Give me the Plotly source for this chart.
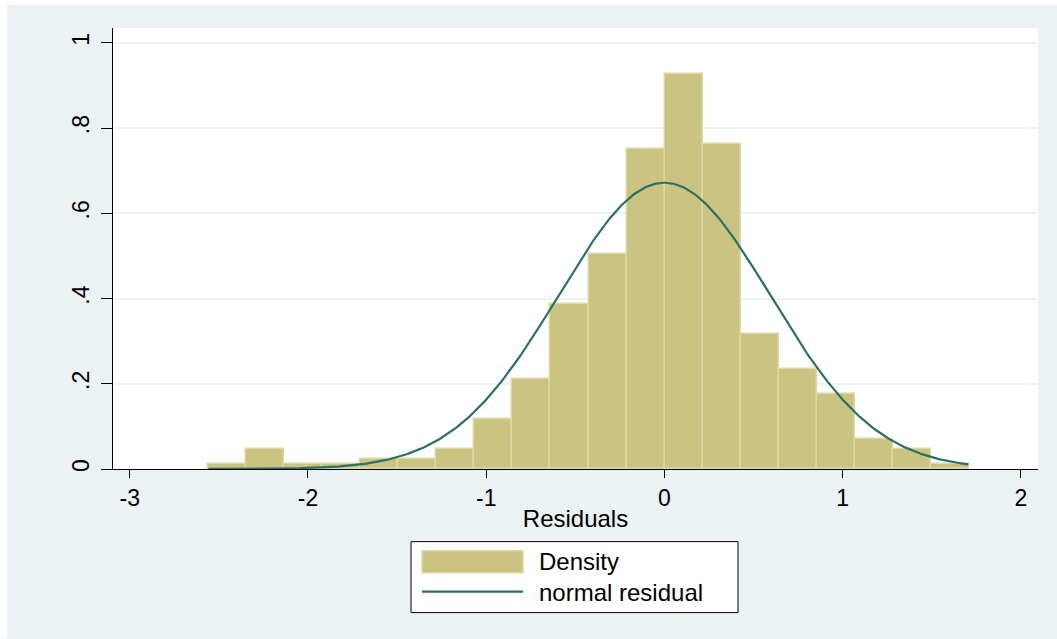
import numpy as np
import plotly.graph_objects as go

# Histogram of residuals (density scale) with a fitted normal curve
bin_start = -2.559
bin_width = 0.2133
density = [0.012, 0.047, 0.012, 0.012, 0.023, 0.023, 0.047, 0.117, 0.211, 0.387,
           0.504, 0.750, 0.926, 0.762, 0.317, 0.234, 0.176, 0.070, 0.047, 0.012]

# Normal fit parameters
resid_mean = 0.0
resid_sd = 0.594
resid_min = -2.559
resid_max = 1.706

x_ticks = [-3, -2, -1, 0, 1, 2]
x_tick_text = ["-3", "-2", "-1", "0", "1", "2"]
y_ticks = [0, 0.2, 0.4, 0.6, 0.8, 1.0]
y_tick_text = ["0", ".2", ".4", ".6", ".8", "1"]

BAR_FILL = "#CBC382"
BAR_EDGE = "#DDD8A6"
LINE_COLOR = "#2B6F66"
PANEL = "#EAF2F3"
FONT = "Liberation Sans, Arial, sans-serif"

W, H = 1057, 639
L, R, T, B = 113, 1038, 28, 469.3

centers = [bin_start + (i + 0.5) * bin_width for i in range(len(density))]

xs = np.linspace(resid_min, resid_max, 400)
ys = np.exp(-0.5 * ((xs - resid_mean) / resid_sd) ** 2) / (resid_sd * np.sqrt(2 * np.pi))

fig = go.Figure()
fig.add_trace(go.Bar(
    x=centers, y=density, width=bin_width,
    marker=dict(color=BAR_FILL, line=dict(color=BAR_EDGE, width=1.5)),
    name="Density", showlegend=False,
))
fig.add_trace(go.Scatter(
    x=xs, y=ys, mode="lines",
    line=dict(color=LINE_COLOR, width=2.2),
    name="normal residual", showlegend=False,
))


def px_x(px):
    return (px - L) / (R - L)


def px_y(py):
    return (B - py) / (B - T)


shapes = [
    # white outer border strips
    dict(type="rect", xref="paper", yref="paper", x0=px_x(0), x1=px_x(W), y0=px_y(0), y1=px_y(5),
         fillcolor="white", line=dict(width=0), layer="below"),
    dict(type="rect", xref="paper", yref="paper", x0=px_x(0), x1=px_x(7), y0=px_y(H), y1=px_y(0),
         fillcolor="white", line=dict(width=0), layer="below"),
    # legend frame
    dict(type="rect", xref="paper", yref="paper", x0=px_x(411), x1=px_x(738), y0=px_y(613), y1=px_y(542),
         fillcolor="white", line=dict(color="black", width=1)),
    # legend swatch for bars
    dict(type="rect", xref="paper", yref="paper", x0=px_x(422), x1=px_x(523), y0=px_y(573), y1=px_y(551),
         fillcolor=BAR_FILL, line=dict(color=BAR_EDGE, width=1.5)),
    # legend swatch for line
    dict(type="line", xref="paper", yref="paper", x0=px_x(422), x1=px_x(523), y0=px_y(592), y1=px_y(592),
         line=dict(color=LINE_COLOR, width=2.2)),
]

annotations = [
    dict(text="Density", xref="paper", yref="paper", x=px_x(537), y=px_y(562),
         xanchor="left", yanchor="middle", showarrow=False,
         font=dict(family=FONT, size=24, color="black")),
    dict(text="normal residual", xref="paper", yref="paper", x=px_x(537), y=px_y(593),
         xanchor="left", yanchor="middle", showarrow=False,
         font=dict(family=FONT, size=24, color="black")),
]

fig.update_layout(
    width=W, height=H,
    margin=dict(l=L, r=W - R, t=T, b=H - B, pad=0),
    paper_bgcolor=PANEL,
    plot_bgcolor="white",
    bargap=0,
    shapes=shapes,
    annotations=annotations,
    font=dict(family=FONT, size=23, color="black"),
    xaxis=dict(
        range=[-3.094, 2.096],
        tickvals=x_ticks, ticktext=x_tick_text,
        ticks="outside", ticklen=8, tickwidth=1.2, tickcolor="black",
        showline=True, linecolor="black", linewidth=1.2,
        showgrid=False, zeroline=False,
        tickfont=dict(size=23),
        title=dict(text="Residuals", font=dict(size=24), standoff=0),
    ),
    yaxis=dict(
        range=[0, 1.0347],
        tickvals=y_ticks, ticktext=y_tick_text,
        tickangle=-90,
        ticks="outside", ticklen=11, tickwidth=1.2, tickcolor="black",
        ticklabelstandoff=3,
        showline=True, linecolor="black", linewidth=1.2,
        showgrid=True, gridcolor=PANEL, gridwidth=1.5,
        zeroline=False,
        tickfont=dict(size=23),
    ),
)

fig.write_html("out.html")
